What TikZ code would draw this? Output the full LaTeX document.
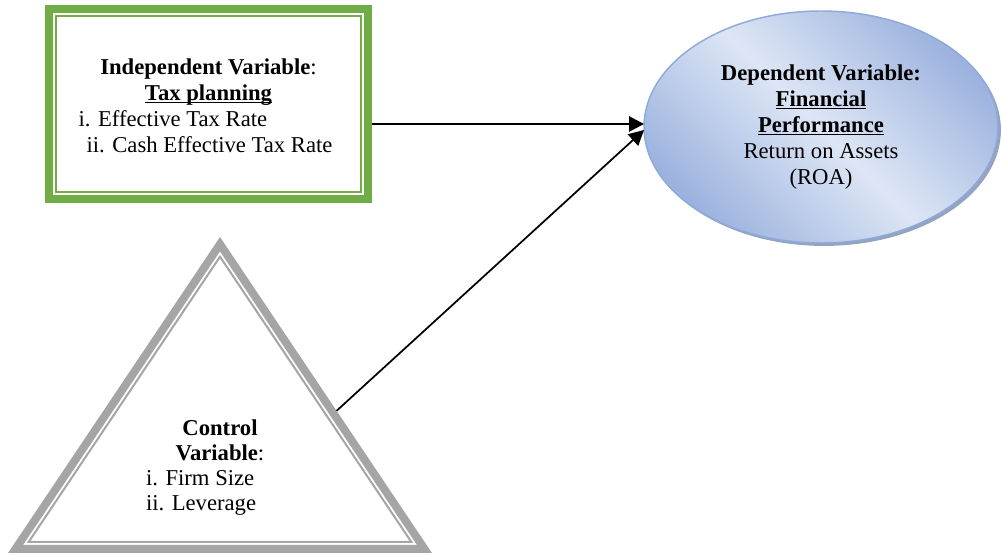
\documentclass[tikz,border=0pt]{standalone}
\usepackage{fontspec}
\setmainfont{Liberation Serif}
\usetikzlibrary{arrows.meta,shadows,calc,shapes.geometric}
\definecolor{boxgreen}{HTML}{70AD47}
\definecolor{trigray}{HTML}{A5A5A5}
\definecolor{elledge}{HTML}{8EAADB}
\definecolor{elldark}{HTML}{9CB2DE}
\definecolor{elllight}{HTML}{DDE6F5}
\definecolor{ellshadow}{HTML}{8394B3}
\newcommand\myul[1]{\setbox0\hbox{#1}\rlap{\rule[-2.2pt]{\wd0}{1.1pt}}\box0}
\begin{document}
\begin{tikzpicture}[x=0.75pt,y=-0.75pt,
  every node/.style={inner sep=0pt, outer sep=0pt},
  bigtext/.style={font=\fontsize{17pt}{19.5pt}\selectfont},
  ivbox/.style={draw=boxgreen, line width=6pt, minimum width=239.25pt, minimum height=142.5pt, bigtext},
  thinrule/.style={line width=1.5pt, line join=miter},
  dvell/.style={ellipse, draw=elledge, line width=1.1pt, minimum width=265.5pt, minimum height=174pt,
    top color=elldark, bottom color=elldark, middle color=elllight, shading angle=-45,
    general shadow={fill=ellshadow, opacity=0.85, shadow xshift=2.2pt, shadow yshift=-2.2pt}, bigtext},
  link/.style={line width=1.3pt, -{Triangle[length=11.25pt,width=11.5pt]}}]
\useasboundingbox (0,0) rectangle (1001,553);

% Independent variable box
\node[ivbox] (iv) at (208.5,104) {\begin{tabular}{@{}l@{}}
\rule{0pt}{19.6pt}\makebox[195pt]{\textbf{Independent Variable}:}\\
\makebox[195pt]{\myul{\textbf{Tax planning}}}\\
i. Effective Tax Rate\\
\hspace*{6pt}ii. Cash Effective Tax Rate
\end{tabular}};
\draw[boxgreen, thinrule] ($(iv.north west)+(7,7)$) rectangle ($(iv.south east)+(-7,-7)$);

% Dependent variable ellipse
\node[dvell] (dv) at (821,127) {\begin{tabular}{@{}c@{}}
\textbf{Dependent Variable:}\\
\myul{\textbf{Financial}}\\
\myul{\textbf{Performance}}\\
Return on Assets\\
(ROA)
\end{tabular}};

% Control variable triangle
\coordinate (tA) at (220,237);
\coordinate (tB) at (8,553);
\coordinate (tC) at (432,553);
\coordinate (tI) at (220,439.9);
\draw[trigray, line width=6pt, line join=miter]
  ($(tI)!0.9646!(tA)$) -- ($(tI)!0.9646!(tB)$) -- ($(tI)!0.9646!(tC)$) -- cycle;
\draw[trigray, thinrule]
  ($(tI)!0.9027!(tA)$) -- ($(tI)!0.9027!(tB)$) -- ($(tI)!0.9027!(tC)$) -- cycle;
\node[anchor=base west, font=\fontsize{17pt}{18.75pt}\selectfont] (cv) at (146,435) {\begin{tabular}[t]{@{}l@{}}
\makebox[111pt]{\textbf{Control}}\\
\makebox[111pt]{\textbf{Variable}:}\\
i. Firm Size\\
ii. Leverage
\end{tabular}};

% Connectors
\coordinate (cvout) at ($(tA)!0.55!(tC)$);
\coordinate (hitH) at ($(dv.west)+(0,-3)$);
\coordinate (hitD) at ($(dv.west)+(0,3)$);
\draw[link] ([xshift=3pt]iv.east |- hitH) -- (hitH);
\draw[link] (cvout) -- (hitD);
\end{tikzpicture}
\end{document}
